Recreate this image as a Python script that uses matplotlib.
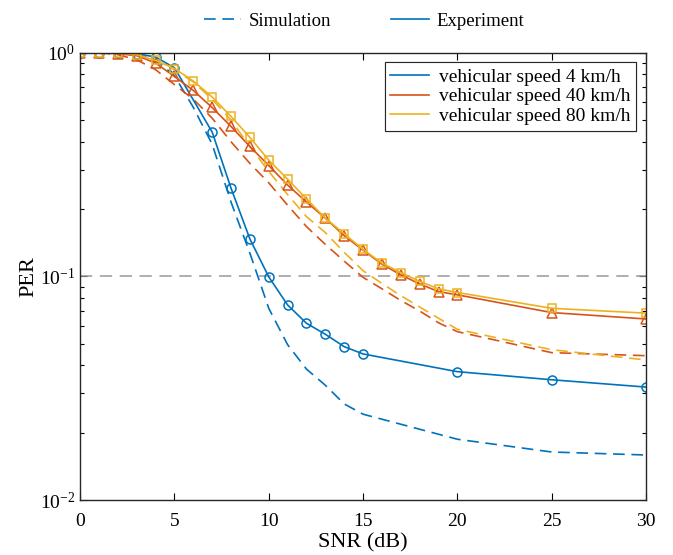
import numpy as np
import matplotlib
matplotlib.use("Agg")
import matplotlib.pyplot as plt
from matplotlib.lines import Line2D

plt.rcParams['font.family'] = ['Liberation Serif', 'DejaVu Serif']
plt.rcParams['mathtext.fontset'] = 'custom'
plt.rcParams['mathtext.rm'] = 'Liberation Serif'
plt.rcParams['mathtext.it'] = 'Liberation Serif:italic'

# MATLAB default colours
c_blue = '#0072BD'
c_red = '#D95319'
c_yel = '#EDB120'

# --- experiment data ---
snr_exp_4 = [0, 1, 2, 3, 4, 5, 7, 8, 9, 10, 11, 12, 13, 14, 15, 20, 25, 30]
per_exp_4 = [1.0, 1.0, 1.0, 0.99, 0.957, 0.857, 0.442, 0.248, 0.147, 0.0995,
             0.0745, 0.0617, 0.0551, 0.0485, 0.045, 0.0375, 0.0345, 0.032]

snr_exp = [0, 1, 2, 3, 4, 5, 6, 7, 8, 9, 10, 11, 12, 13, 14, 15, 16, 17, 18, 19, 20, 25, 30]
per_exp_40 = [1.0, 1.0, 0.99, 0.97, 0.90, 0.783, 0.678, 0.569, 0.468, 0.381, 0.313,
              0.256, 0.215, 0.182, 0.152, 0.131, 0.1134, 0.1016, 0.0925, 0.0855,
              0.0827, 0.0689, 0.0645]
per_exp_80 = [1.0, 1.0, 1.0, 0.98, 0.924, 0.85, 0.747, 0.634, 0.519, 0.418, 0.331,
              0.272, 0.222, 0.182, 0.155, 0.132, 0.1146, 0.104, 0.095, 0.088,
              0.0847, 0.072, 0.0685]

# --- simulation data ---
snr_sim_4 = [0, 1, 2, 3, 4, 5, 6, 7, 8, 9, 10, 11, 12, 13, 14, 15, 20, 25, 30]
per_sim_4 = [1.0, 1.0, 1.0, 0.98, 0.93, 0.79, 0.57, 0.39, 0.215, 0.127, 0.072,
             0.0495, 0.0385, 0.0326, 0.0269, 0.0242, 0.0187, 0.0164, 0.0159]

snr_sim = [0, 1, 2, 3, 4, 5, 6, 7, 8, 9, 10, 11, 12, 13, 14, 15, 16, 17, 18, 19, 20, 25, 30]
per_sim_40 = [1.0, 1.0, 0.98, 0.93, 0.84, 0.72, 0.62, 0.51, 0.40, 0.32, 0.262,
              0.208, 0.167, 0.139, 0.117, 0.099, 0.088, 0.078, 0.07, 0.062,
              0.0566, 0.0456, 0.0442]
per_sim_80 = [1.0, 1.0, 1.0, 0.98, 0.92, 0.84, 0.74, 0.62, 0.50, 0.38, 0.295,
              0.232, 0.185, 0.157, 0.128, 0.106, 0.093, 0.082, 0.073, 0.065,
              0.058, 0.047, 0.0423]

labels = ['vehicular speed 4 km/h', 'vehicular speed 40 km/h', 'vehicular speed 80 km/h']
per_threshold = 0.1

fig = plt.figure(figsize=(6.73, 5.55), dpi=100)
ax = fig.add_axes([0.119, 0.099, 0.841, 0.806])

dash = (0, (7, 4))
lw = 1.2
ms = 6.5

ax.axhline(per_threshold, color='#999999', lw=1.1, ls=(0, (8, 5)))

ax.plot(snr_sim_4, per_sim_4, color=c_blue, lw=lw, ls=dash)
ax.plot(snr_sim, per_sim_40, color=c_red, lw=lw, ls=dash)
ax.plot(snr_sim, per_sim_80, color=c_yel, lw=lw, ls=dash)

ax.plot(snr_exp_4, per_exp_4, color=c_blue, lw=lw, marker='o', ms=ms, mfc='none', mew=1.1)
ax.plot(snr_exp, per_exp_40, color=c_red, lw=lw, marker='^', ms=ms + 1, mfc='none', mew=1.1)
ax.plot(snr_exp, per_exp_80, color=c_yel, lw=lw, marker='s', ms=ms - 0.5, mfc='none', mew=1.1)

ax.set_yscale('log')
ax.set_xlim(0, 30)
ax.set_ylim(1e-2, 1)
ax.set_xticks([0, 5, 10, 15, 20, 25, 30])
ax.tick_params(which='both', direction='in', top=True, right=True, labelsize=14, width=0.8)
ax.tick_params(which='major', length=5)
ax.tick_params(which='minor', length=3)
ax.tick_params(axis='x', pad=9)
for s in ax.spines.values():
    s.set_color('#262626')
    s.set_linewidth(1.0)

ax.set_xlabel('SNR (dB)', fontsize=16, labelpad=3)
ax.set_ylabel('PER', fontsize=16, labelpad=1)

# speed legend
h_speed = [Line2D([], [], color=c, lw=lw) for c in (c_blue, c_red, c_yel)]
leg1 = ax.legend(h_speed, labels, loc='upper right', fontsize=14, frameon=True,
                 fancybox=False, edgecolor='#262626', framealpha=1,
                 handlelength=2.0, borderpad=0.3, labelspacing=0.1,
                 handletextpad=0.5, borderaxespad=0.5)
leg1.get_frame().set_linewidth(0.8)
ax.add_artist(leg1)

# simulation/experiment legend above axes
h_type = [Line2D([], [], color=c_blue, lw=lw, ls=dash),
          Line2D([], [], color=c_blue, lw=lw)]
fig.legend(h_type, ['Simulation', 'Experiment'], loc='center',
           bbox_to_anchor=(0.541, 0.962), ncol=2, frameon=False, fontsize=13.5,
           handlelength=2.0, columnspacing=3.2, handletextpad=0.4)

fig.savefig('out.png', dpi=100)
